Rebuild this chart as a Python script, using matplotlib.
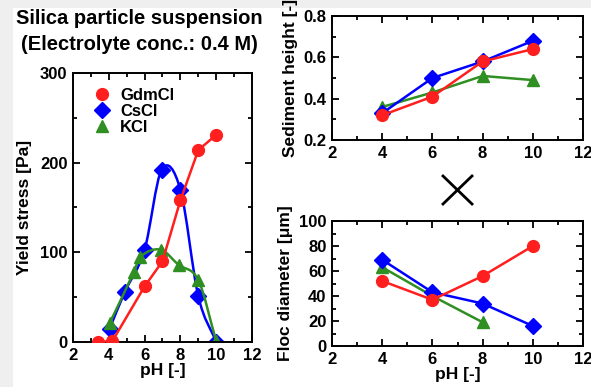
import numpy as np
import matplotlib
matplotlib.use('Agg')
import matplotlib.pyplot as plt
from matplotlib.path import Path
from matplotlib.patches import PathPatch, Rectangle
from matplotlib.lines import Line2D
from matplotlib.ticker import MultipleLocator

plt.rcParams['font.family'] = ['Liberation Sans', 'DejaVu Sans']
plt.rcParams['font.weight'] = 'bold'
plt.rcParams['axes.labelweight'] = 'bold'

# Data
# Yield stress (left panel)
ph_gdm = [3.4, 4.2, 6.0, 7.0, 8.0, 9.0, 10.0]
ys_gdm = [0, 1, 62, 90, 158, 214, 231]
ph_cs = [4.05, 4.9, 6.0, 6.95, 8.0, 9.0, 10.0]
ys_cs = [15, 56, 103, 192, 170, 51, 0]
ph_k = [4.05, 5.4, 5.75, 6.9, 7.9, 9.0, 10.0]
ys_k = [21, 78, 95, 103, 86, 69, 1]

# Sediment height (top right)
ph_sed = [4, 6, 8, 10]
sed_gdm = [0.32, 0.41, 0.58, 0.64]
sed_cs = [0.33, 0.50, 0.58, 0.68]
sed_k = [0.36, 0.43, 0.51, 0.49]

# Floc diameter (bottom right)
ph_floc = [4, 6, 8, 10]
floc_gdm = [52, 37, 56, 80]
floc_cs = [69, 43, 34, 16]
ph_floc_k = [4, 6, 8]
floc_k = [63, 40, 19]

labels = ['GdmCl', 'CsCl', 'KCl']
RED = '#ff1f1f'
BLUE = '#0000ff'
GREEN = '#2f8f22'
colors = [RED, BLUE, GREEN]
markers = ['o', 'D', '^']
msizes = [8.5, 8.0, 8.5]
LW = 1.8


def smooth_path(x, y):
    # smooth connector through the points (cubic bezier segments)
    x = np.asarray(x, float)
    y = np.asarray(y, float)
    n = len(x)
    m = np.zeros(n)
    m[0] = (y[1] - y[0]) / (x[1] - x[0])
    m[-1] = (y[-1] - y[-2]) / (x[-1] - x[-2])
    for i in range(1, n - 1):
        m[i] = (y[i + 1] - y[i - 1]) / (x[i + 1] - x[i - 1])
    verts = [(x[0], y[0])]
    codes = [Path.MOVETO]
    for i in range(n - 1):
        d = (x[i + 1] - x[i]) / 3
        verts += [(x[i] + d, y[i] + d * m[i]),
                  (x[i + 1] - d, y[i + 1] - d * m[i + 1]),
                  (x[i + 1], y[i + 1])]
        codes += [Path.CURVE4] * 3
    return Path(verts, codes)


def style(ax, xmaj, xmin, ymaj, ymin):
    ax.xaxis.set_major_locator(MultipleLocator(xmaj))
    ax.xaxis.set_minor_locator(MultipleLocator(xmin))
    ax.yaxis.set_major_locator(MultipleLocator(ymaj))
    ax.yaxis.set_minor_locator(MultipleLocator(ymin))
    ax.tick_params(which='both', direction='in', top=True, right=True,
                   width=1.3, labelsize=12)
    ax.tick_params(which='major', length=5, pad=4)
    ax.tick_params(which='minor', length=3)
    for s in ax.spines.values():
        s.set_linewidth(1.4)


fig = plt.figure(figsize=(5.91, 3.87), dpi=100)
fig.patch.set_facecolor('white')
fig.add_artist(Rectangle((0, 0), 12.5 / 591, 1, transform=fig.transFigure,
                         facecolor='#efefef', edgecolor='none', zorder=-10))
fig.add_artist(Rectangle((0, 1 - 7.5 / 387), 1, 7.5 / 387, transform=fig.transFigure,
                         facecolor='#efefef', edgecolor='none', zorder=-10))

# left panel
ax1 = fig.add_axes([0.1235, 0.1163, 0.3029, 0.6951])
ax1.plot(ph_gdm, ys_gdm, color=RED, lw=LW, marker='o', ms=8.5, zorder=3)
for xx, yy, c, mk, ms in [(ph_cs, ys_cs, BLUE, 'D', 8.0), (ph_k, ys_k, GREEN, '^', 8.5)]:
    ax1.add_patch(PathPatch(smooth_path(xx, yy), facecolor='none', edgecolor=c,
                            lw=LW, zorder=2))
    ax1.plot(xx, yy, ls='none', color=c, marker=mk, ms=ms, zorder=2)
ax1.set_xlim(2, 12)
ax1.set_ylim(0, 300)
style(ax1, 2, 1, 100, 50)
ax1.set_xlabel('pH [-]', fontsize=12.5, labelpad=0)
ax1.set_ylabel('Yield stress [Pa]', fontsize=12.5, labelpad=6)
handles = [Line2D([], [], ls='none', marker=mk, color=c, ms=ms)
           for mk, c, ms in zip(markers, colors, msizes)]
ax1.legend(handles, labels, loc='upper left', frameon=False,
           prop={'weight': 'bold', 'size': 12}, handlelength=1.0,
           handletextpad=0.6, labelspacing=0.05,
           bbox_to_anchor=(0.03, 1.0))

# top right panel
ax2 = fig.add_axes([0.5618, 0.6382, 0.4247, 0.3204])
ax2.plot(ph_sed, sed_k, color=GREEN, lw=LW, marker='^', ms=8.5)
ax2.plot(ph_sed, sed_cs, color=BLUE, lw=LW, marker='D', ms=8.0)
ax2.plot(ph_sed, sed_gdm, color=RED, lw=LW, marker='o', ms=8.5)
ax2.set_xlim(2, 12)
ax2.set_ylim(0.2, 0.8)
style(ax2, 2, 1, 0.2, 0.1)
ax2.set_ylabel('Sediment height [-]', fontsize=12.5, labelpad=4)

# bottom right panel
ax3 = fig.add_axes([0.5618, 0.1059, 0.4247, 0.3230])
ax3.plot(ph_floc_k, floc_k, color=GREEN, lw=LW, marker='^', ms=8.5)
ax3.plot(ph_floc, floc_cs, color=BLUE, lw=LW, marker='D', ms=8.0)
ax3.plot(ph_floc, floc_gdm, color=RED, lw=LW, marker='o', ms=8.5)
ax3.set_xlim(2, 12)
ax3.set_ylim(0, 100)
style(ax3, 2, 1, 20, 10)
ax3.set_xlabel('pH [-]', fontsize=12.5, labelpad=0)
ax3.set_ylabel('Floc diameter [\u03bcm]', fontsize=12.5, labelpad=4)

# title
fig.text(0.236, 0.953, 'Silica particle suspension', ha='center', va='center',
         fontsize=14.5, fontweight='bold')
fig.text(0.236, 0.884, '(Electrolyte conc.: 0.4 M)', ha='center', va='center',
         fontsize=14.5, fontweight='bold')

# cross between right panels
W, H = 591, 387
fig.add_artist(Line2D([443 / W, 472 / W], [1 - 176 / H, 1 - 204 / H],
                      transform=fig.transFigure, color='black', lw=2))
fig.add_artist(Line2D([443 / W, 472 / W], [1 - 204 / H, 1 - 176 / H],
                      transform=fig.transFigure, color='black', lw=2))

fig.savefig('out.png', dpi=100)
